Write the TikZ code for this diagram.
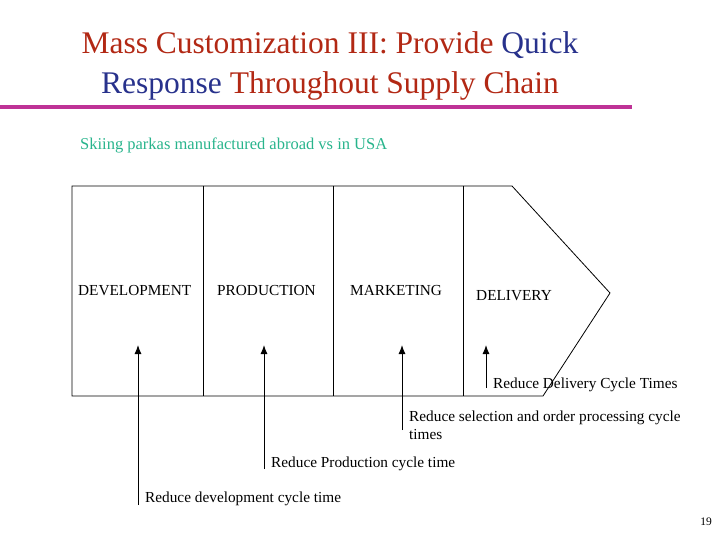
\documentclass[tikz,border=0pt]{standalone}
\usepackage{fontspec}
\usetikzlibrary{arrows.meta}
\setmainfont{Liberation Serif}
\definecolor{tred}{RGB}{178,40,20}
\definecolor{tblue}{RGB}{40,50,140}
\definecolor{tmag}{RGB}{190,50,150}
\definecolor{tteal}{RGB}{40,180,140}
\begin{document}
\begin{tikzpicture}[x=1pt,y=-1pt,
  lbl/.style={anchor=west,inner sep=0pt,font=\fontsize{15.3}{17}\selectfont},
  arr/.style={-{Latex[length=9pt,width=7pt]},line width=1pt}]
\useasboundingbox (0,0) rectangle (720,540);
\node[inner sep=0pt,align=center,font=\fontsize{31.5}{40}\selectfont] (title) at (330,66)
 {\textcolor{tred}{Mass Customization III: Provide} \textcolor{tblue}{Quick}\\
  \textcolor{tblue}{Response} \textcolor{tred}{Throughout Supply Chain}};
\draw[tmag,line width=4pt] (0,107) -- (632,107);
\node[lbl,tteal,font=\fontsize{16.5}{18}\selectfont] (sub) at (80,145) {Skiing parkas manufactured abroad vs in USA};
\draw[line width=0.8pt] (72,186) -- (512,186) -- (610,293) -- (543,396) -- (72,396) -- cycle;
\foreach \x in {203,333,463} \draw[line width=0.8pt] (\x,186) -- (\x,396);
\node[lbl] (dev) at (78,291) {DEVELOPMENT};
\node[lbl] (prod) at (217,291) {PRODUCTION};
\node[lbl] (mkt) at (350,291) {MARKETING};
\node[lbl] (del) at (476,296) {DELIVERY};
\node[lbl] (t1) at (145,499) {Reduce development cycle time};
\node[lbl] (t2) at (271,464) {Reduce Production cycle time};
\node[lbl,align=left,font=\fontsize{15.3}{18}\selectfont] (t3) at (409,425) {Reduce selection and order processing cycle\\times};
\node[lbl] (t4) at (493,385) {Reduce Delivery Cycle Times};
\coordinate (a1) at (138,345); \coordinate (b1) at (138,505);
\coordinate (a2) at (264,345); \coordinate (b2) at (264,469);
\coordinate (a3) at (402,345); \coordinate (b3) at (402,430);
\coordinate (a4) at (486,345); \coordinate (b4) at (486,388);
\draw[arr] (b1) -- (a1);
\draw[arr] (b2) -- (a2);
\draw[arr] (b3) -- (a3);
\draw[arr] (b4) -- (a4);
\node[anchor=east,inner sep=0pt,font=\fontsize{11.5}{13}\selectfont] (pg) at (712,522) {19};
\end{tikzpicture}
\end{document}
